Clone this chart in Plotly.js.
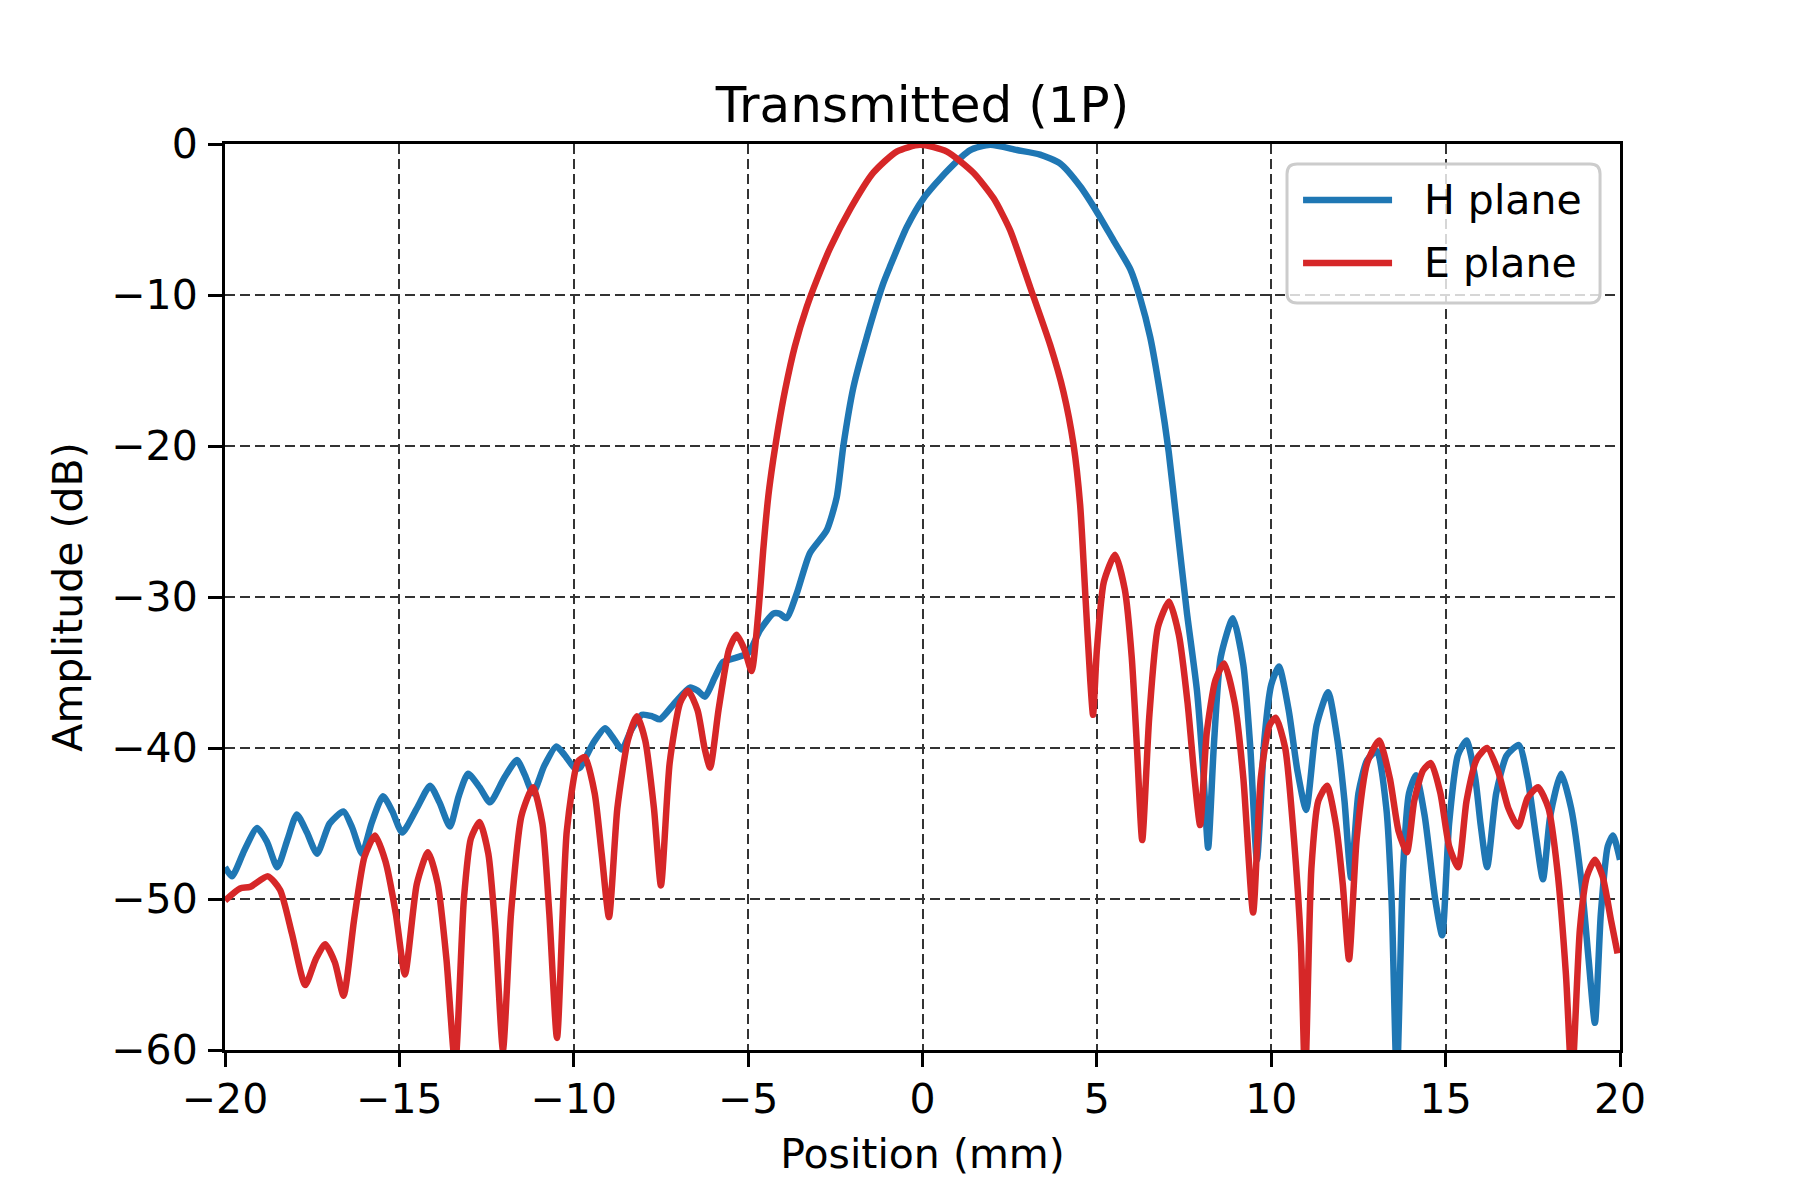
<!DOCTYPE html>
<html>
<head>
<meta charset="utf-8">
<script src="https://cdn.plot.ly/plotly-3.0.1.min.js"></script>
<style>
  body { margin: 0; background: #fff; }
  #chart { width: 1800px; height: 1200px; }
</style>
</head>
<body>
<div id="chart"></div>
<script>
// H plane (blue)
var hX = [-20.0, -19.8, -19.45, -19.08, -18.8, -18.5, -18.2, -17.94, -17.65, -17.36,
    -17.0, -16.6, -16.35, -16.07, -15.8, -15.47, -15.2, -14.92, -14.5, -14.12,
    -13.85, -13.55, -13.3, -13.03, -12.7, -12.4, -12.0, -11.63, -11.4, -11.17,
    -10.85, -10.5, -10.25, -9.95, -9.82, -9.45, -9.1, -8.85, -8.62, -8.35,
    -8.04, -7.75, -7.53, -7.1, -6.67, -6.45, -6.24, -5.95, -5.72, -5.32,
    -4.99, -4.66, -4.28, -4.1, -3.9, -3.61, -3.23, -2.75, -2.46, -2.27,
    -1.98, -1.6, -1.12, -0.93, -0.45, 0.03, 0.7, 1.37, 1.94, 2.71,
    3.37, 3.95, 4.52, 5.0, 5.48, 5.96, 6.24, 6.53, 6.82, 7.06,
    7.29, 7.58, 7.87, 8.05, 8.19, 8.35, 8.55, 8.9, 9.2, 9.4,
    9.59, 9.8, 10.0, 10.22, 10.5, 10.75, 11.0, 11.3, 11.63, 11.9,
    12.1, 12.29, 12.5, 12.75, 13.03, 13.3, 13.45, 13.6, 13.78, 13.95,
    14.15, 14.4, 14.7, 14.9, 15.1, 15.35, 15.6, 15.85, 16.0, 16.19,
    16.45, 16.75, 17.1, 17.35, 17.6, 17.79, 18.0, 18.31, 18.6, 18.9,
    19.1, 19.28, 19.45, 19.65, 19.8, 20.0];
var hY = [-47.9, -48.5, -46.8, -45.3, -46.2, -47.9, -46.0, -44.4, -45.6, -47.0,
    -45.0, -44.2, -45.3, -47.0, -45.0, -43.2, -44.2, -45.6, -44.0, -42.5,
    -43.6, -45.2, -43.2, -41.7, -42.6, -43.6, -42.0, -40.8, -41.8, -43.0,
    -41.2, -39.9, -40.5, -41.4, -41.3, -39.7, -38.7, -39.4, -40.1, -38.8,
    -37.8, -37.9, -38.1, -37.0, -36.0, -36.2, -36.6, -35.3, -34.3, -34.0,
    -33.7, -32.2, -31.1, -31.1, -31.4, -29.8, -27.1, -25.6, -23.4, -20.0,
    -16.1, -12.8, -9.2, -8.1, -5.5, -3.6, -1.8, -0.4, -0.05, -0.4,
    -0.7, -1.3, -2.8, -4.5, -6.4, -8.3, -10.2, -12.8, -16.6, -20.4,
    -25.1, -31.0, -36.2, -41.5, -46.6, -40.0, -34.0, -31.4, -34.5, -40.0,
    -47.4, -39.5, -35.8, -34.6, -37.5, -41.5, -44.1, -38.5, -36.3, -39.5,
    -43.5, -48.6, -43.0, -40.8, -40.2, -44.0, -50.0, -62.0, -48.0, -43.0,
    -41.8, -44.5, -50.0, -52.4, -45.0, -40.5, -39.5, -42.0, -45.0, -47.9,
    -43.0, -40.5, -39.8, -42.0, -46.0, -48.7, -44.5, -41.7, -44.0, -49.0,
    -54.0, -58.2, -51.0, -46.5, -45.8, -47.4];

// E plane (red)
var eX = [-20.0, -19.57, -19.28, -18.77, -18.42, -18.08, -17.7, -17.4, -17.13, -16.85,
    -16.6, -16.3, -16.0, -15.7, -15.4, -15.1, -14.84, -14.5, -14.18, -13.9,
    -13.65, -13.4, -13.15, -12.95, -12.7, -12.45, -12.25, -12.03, -11.8, -11.5,
    -11.17, -10.9, -10.7, -10.48, -10.2, -9.88, -9.68, -9.4, -9.2, -8.99,
    -8.75, -8.45, -8.19, -7.95, -7.7, -7.5, -7.25, -6.95, -6.72, -6.45,
    -6.25, -6.09, -5.85, -5.55, -5.33, -5.1, -4.9, -4.71, -4.56, -4.42,
    -4.28, -4.13, -3.94, -3.66, -3.32, -3.03, -2.65, -2.07, -1.41, -0.74,
    -0.07, 0.7, 1.46, 2.04, 2.51, 3.09, 3.66, 4.04, 4.33, 4.52,
    4.67, 4.81, 4.89, 5.0, 5.2, 5.52, 5.8, 6.0, 6.15, 6.3,
    6.5, 6.75, 7.07, 7.35, 7.6, 7.8, 7.96, 8.15, 8.4, 8.65,
    8.95, 9.2, 9.48, 9.7, 9.95, 10.13, 10.4, 10.65, 10.85, 10.97,
    11.15, 11.35, 11.6, 11.85, 12.05, 12.23, 12.45, 12.75, 13.09, 13.4,
    13.65, 13.89, 14.1, 14.35, 14.58, 14.85, 15.1, 15.36, 15.6, 15.9,
    16.19, 16.5, 16.8, 17.08, 17.35, 17.65, 17.95, 18.2, 18.45, 18.62,
    18.85, 19.05, 19.28, 19.5, 19.75, 19.93];
var eY = [-50.1, -49.3, -49.2, -48.5, -49.4, -52.3, -55.7, -54.0, -53.0, -54.2,
    -56.4, -51.4, -47.2, -45.8, -47.5, -51.0, -55.0, -49.0, -46.9, -49.0,
    -54.0, -61.0, -50.0, -46.0, -44.9, -47.0, -52.0, -60.0, -51.0, -44.5,
    -42.6, -45.0, -51.0, -59.2, -45.5, -40.9, -40.6, -43.0, -47.0, -51.2,
    -44.0, -39.5, -37.9, -39.5, -44.0, -49.1, -41.0, -37.0, -36.2, -37.5,
    -40.0, -41.3, -37.5, -33.5, -32.5, -33.5, -34.9, -31.1, -26.7, -23.3,
    -20.9, -18.7, -16.3, -13.4, -10.8, -9.0, -6.9, -4.3, -1.9, -0.5,
    -0.05, -0.5, -1.9, -3.6, -5.7, -9.5, -13.3, -16.4, -19.9, -23.9,
    -29.9, -35.5, -37.8, -33.5, -29.0, -27.2, -29.5, -34.0, -40.0, -46.1,
    -38.0, -32.0, -30.3, -32.5, -37.0, -42.0, -45.1, -39.0, -35.5, -34.4,
    -37.0, -42.0, -50.9, -42.0, -38.5, -38.0, -40.0, -46.0, -53.0, -62.0,
    -48.0, -43.5, -42.5, -45.0, -49.0, -54.0, -46.0, -41.0, -39.5, -42.0,
    -45.5, -46.9, -43.5, -41.5, -41.0, -43.0, -46.5, -47.9, -43.5, -40.7,
    -40.0, -41.5, -44.0, -45.2, -43.3, -42.6, -44.0, -48.0, -55.0, -62.0,
    -52.0, -48.5, -47.4, -48.5, -51.5, -53.6];

var seriesNames = ['H plane', 'E plane'];
var seriesColors = ['#1f77b4', '#d62728'];

var xTicks = [-20, -15, -10, -5, 0, 5, 10, 15, 20];
var xTickText = ['\u221220', '\u221215', '\u221210', '\u22125', '0', '5', '10', '15', '20'];
var yTicks = [-60, -50, -40, -30, -20, -10, 0];
var yTickText = ['\u221260', '\u221250', '\u221240', '\u221230', '\u221220', '\u221210', '0'];

var FONT = 'DejaVu Sans, Arial, sans-serif';
var LW = 6.5;

var traces = [
    { x: hX, y: hY, name: seriesNames[0], mode: 'lines',
      line: { color: seriesColors[0], width: LW, shape: 'spline', smoothing: 0.6 } },
    { x: eX, y: eY, name: seriesNames[1], mode: 'lines',
      line: { color: seriesColors[1], width: LW, shape: 'spline', smoothing: 0.6 } }
];

var axisCommon = {
    showline: true, mirror: true, linecolor: '#000', linewidth: 3,
    ticks: 'outside', ticklen: 14, tickwidth: 3, tickcolor: '#000',
    showgrid: true, gridcolor: '#333333', gridwidth: 2, griddash: '10px,5px',
    zeroline: false, tickfont: { family: FONT, size: 41, color: '#000' }
};

// matplotlib-style legend box (rounded frame, long line handles), in paper units
var lg = { x0: 0.7613, x1: 0.9857, y0: 0.8245, y1: 0.9779, rx: 0.0072, ry: 0.011,
           hx0: 0.7728, hx1: 0.8366, tx: 0.8578, rows: [0.9382, 0.8687] };
function roundRect(b) {
    return 'M' + (b.x0 + b.rx) + ',' + b.y1 + ' L' + (b.x1 - b.rx) + ',' + b.y1 +
        ' Q' + b.x1 + ',' + b.y1 + ' ' + b.x1 + ',' + (b.y1 - b.ry) +
        ' L' + b.x1 + ',' + (b.y0 + b.ry) +
        ' Q' + b.x1 + ',' + b.y0 + ' ' + (b.x1 - b.rx) + ',' + b.y0 +
        ' L' + (b.x0 + b.rx) + ',' + b.y0 +
        ' Q' + b.x0 + ',' + b.y0 + ' ' + b.x0 + ',' + (b.y0 + b.ry) +
        ' L' + b.x0 + ',' + (b.y1 - b.ry) +
        ' Q' + b.x0 + ',' + b.y1 + ' ' + (b.x0 + b.rx) + ',' + b.y1 + ' Z';
}
var shapes = [{
    type: 'path', xref: 'paper', yref: 'paper', path: roundRect(lg), layer: 'above',
    fillcolor: 'rgba(255,255,255,0.8)', line: { color: '#cccccc', width: 3 }
}];
var annotations = [];
seriesNames.forEach(function (name, i) {
    shapes.push({ type: 'line', xref: 'paper', yref: 'paper', layer: 'above',
        x0: lg.hx0, x1: lg.hx1, y0: lg.rows[i], y1: lg.rows[i],
        line: { color: seriesColors[i], width: LW } });
    annotations.push({ xref: 'paper', yref: 'paper', x: lg.tx, y: lg.rows[i],
        xanchor: 'left', yanchor: 'middle', showarrow: false, text: name,
        font: { family: FONT, size: 41, color: '#000' } });
});

var layout = {
    width: 1800, height: 1200,
    paper_bgcolor: '#fff', plot_bgcolor: '#fff',
    font: { family: FONT, color: '#000' },
    margin: { l: 225, r: 180, t: 144, b: 150, pad: 0 },
    title: { text: 'Transmitted (1P)', font: { family: FONT, size: 50 },
             x: 0.5, xref: 'paper', y: 1, yref: 'paper', yanchor: 'bottom', pad: { b: 22 } },
    xaxis: Object.assign({}, axisCommon, {
        range: [-20, 20], tickmode: 'array', tickvals: xTicks, ticktext: xTickText,
        ticklabelstandoff: -3,
        title: { text: 'Position (mm)', font: { family: FONT, size: 41 }, standoff: 18 }
    }),
    yaxis: Object.assign({}, axisCommon, {
        range: [-60, 0], tickmode: 'array', tickvals: yTicks, ticktext: yTickText,
        ticklabelstandoff: 2,
        title: { text: 'Amplitude (dB)', font: { family: FONT, size: 41 }, standoff: 16 }
    }),
    shapes: shapes,
    annotations: annotations,
    showlegend: false
};

Plotly.newPlot('chart', traces, layout, { displayModeBar: false, staticPlot: true });
</script>
</body>
</html>
